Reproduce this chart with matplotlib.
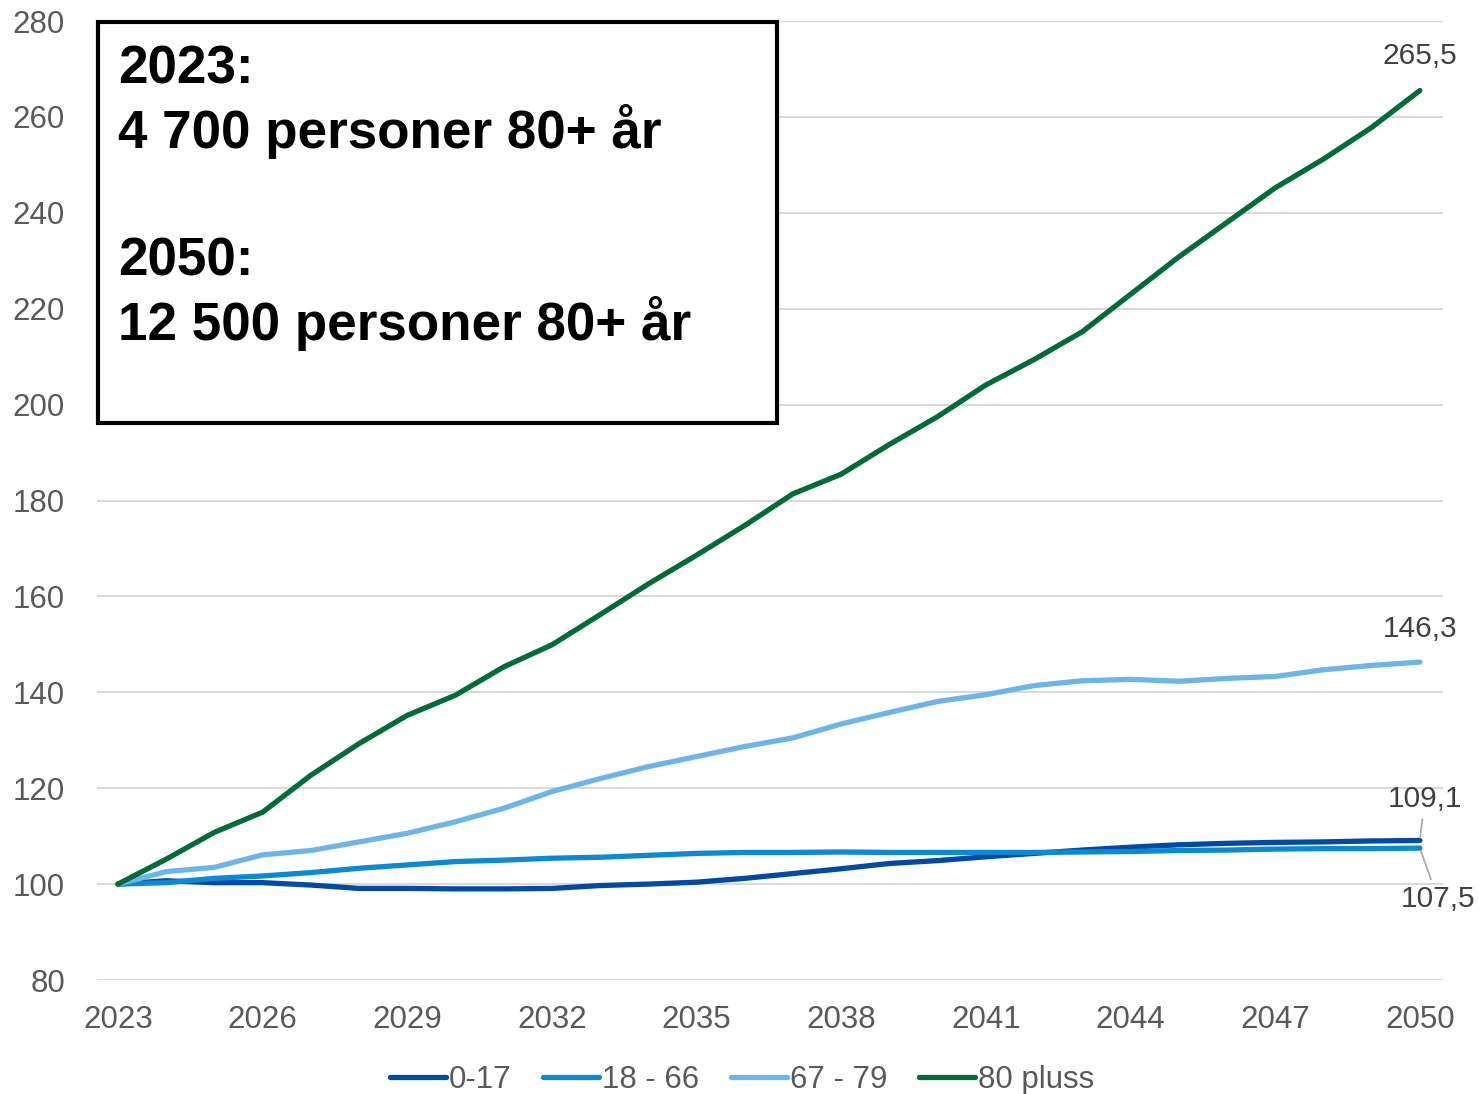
import matplotlib
matplotlib.use("Agg")
import matplotlib.pyplot as plt
from matplotlib.patches import Rectangle

plt.rcParams['font.family'] = ['Liberation Sans', 'DejaVu Sans']

# Data (index, 2023 = 100)
years = list(range(2023, 2051))
labels = ['0-17', '18 - 66', '67 - 79', '80 pluss']
colors = ['#0049A6', '#0989D6', '#6DB5E9', '#036B3A']

v_0_17 = [100.0, 100.7, 100.3, 100.3, 99.8, 99.1, 99.1, 99.0, 99.0, 99.1,
          99.7, 100.0, 100.4, 101.2, 102.2, 103.2, 104.3, 104.9, 105.7, 106.4,
          107.1, 107.7, 108.2, 108.5, 108.7, 108.8, 109.0, 109.1]
v_18_66 = [100.0, 100.3, 101.2, 101.7, 102.4, 103.3, 104.0, 104.7, 105.0, 105.4,
           105.6, 106.0, 106.4, 106.6, 106.6, 106.7, 106.6, 106.6, 106.6, 106.6,
           106.7, 106.8, 107.0, 107.1, 107.3, 107.4, 107.4, 107.5]
v_67_79 = [100.0, 102.6, 103.5, 106.1, 107.0, 108.8, 110.6, 113.0, 115.8, 119.3,
           122.0, 124.5, 126.6, 128.7, 130.5, 133.4, 135.8, 138.1, 139.5, 141.4,
           142.4, 142.7, 142.3, 142.9, 143.3, 144.7, 145.6, 146.3]
v_80 = [100.0, 105.2, 110.8, 115.0, 122.7, 129.3, 135.2, 139.4, 145.3, 149.9,
        156.2, 162.6, 168.6, 174.8, 181.4, 185.5, 191.7, 197.5, 204.1, 209.4,
        215.2, 223.0, 230.8, 238.0, 245.2, 251.2, 257.8, 265.5]
series = [v_0_17, v_18_66, v_67_79, v_80]

box_lines = ['2023:', '4 700 personer 80+ år', '2050:', '12 500 personer 80+ år']

end_labels = ['109,1', '107,5', '146,3', '265,5']
end_offsets = [(3.5, 29.5), (13, -36.5), (0, 24), (0, 25)]

grey = '#595959'

fig = plt.figure(figsize=(14.79, 10.94), dpi=100)
ax = fig.add_axes([97/1479, 1-980/1094, 1346/1479, 959/1094])

for vals, lab, c in zip(series, labels, colors):
    ax.plot(years, vals, color=c, lw=3.8, label=lab, solid_capstyle='round')

ax.set_xlim(2022.565, 2050.48)
ax.set_ylim(80, 280)
ax.set_yticks(range(80, 281, 20))
ax.set_xticks(range(2023, 2051, 3))
ax.grid(axis='y', color='#d9d9d9', lw=1.5)
ax.set_axisbelow(True)
for s in ax.spines.values():
    s.set_visible(False)
ax.tick_params(length=0, labelsize=22.5, labelcolor=grey)
ax.tick_params(axis='x', pad=18)
ax.tick_params(axis='y', pad=23)

# end-of-line value labels
for vals, txt, off in zip(series, end_labels, end_offsets):
    arrow = None
    if txt in ('109,1', '107,5'):
        arrow = dict(arrowstyle='-', color='#a6a6a6', lw=1.2, shrinkA=2, shrinkB=2)
    ax.annotate(txt, xy=(years[-1], vals[-1]), xytext=off, textcoords='offset points',
                ha='center', va='center', fontsize=21.5, color='#404040', arrowprops=arrow)

# text box
ax.add_patch(Rectangle((0.001, 0.5808), 0.5041, 0.4182, transform=ax.transAxes,
                       facecolor='white', edgecolor='black', lw=3, clip_on=False, zorder=5))
baselines = [0.9353, 0.8676, 0.7351, 0.6674]
for txt, yb in zip(box_lines, baselines):
    ax.text(0.0156, yb, txt, transform=ax.transAxes, fontsize=38.2, fontweight='bold',
            color='black', va='baseline', ha='left', zorder=6)

fig.legend(loc='center', bbox_to_anchor=(742/1479, 1-1080/1094), ncol=4, frameon=False,
           fontsize=22.5, labelcolor=grey, handlelength=1.8, handletextpad=0.1,
           columnspacing=1.0)

fig.savefig('out.png', dpi=100)
